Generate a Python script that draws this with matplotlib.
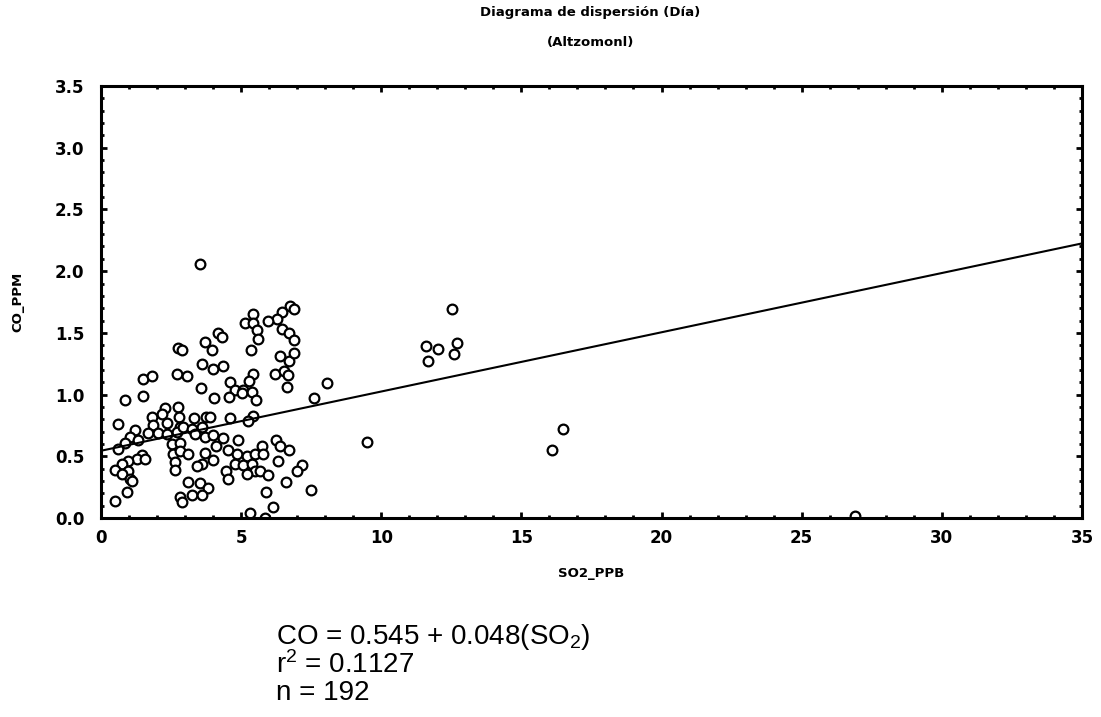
"""
Diagrama de dispersión CO vs SO2 (día) para la estación Altzomoni,
con la recta de regresión lineal y su resumen estadístico.
"""

import matplotlib
matplotlib.use("Agg")
import matplotlib.pyplot as plt
from matplotlib.ticker import MultipleLocator
import numpy as np

plt.rcParams["font.family"] = ["DejaVu Sans"]
plt.rcParams["mathtext.fontset"] = "custom"
plt.rcParams["mathtext.rm"] = "Liberation Sans"
plt.rcParams["mathtext.default"] = "rm"

# SO2 (ppb) y CO (ppm) de cada registro diurno
so2 = [
    3.71, 2.76, 2.90, 3.61, 1.51, 1.83, 2.70, 3.06, 3.57, 0.86,
    1.49, 2.28, 2.74, 1.81, 2.17, 2.78, 3.32, 3.74, 0.60, 1.87,
    2.34, 2.82, 1.21, 1.69, 2.04, 2.34, 2.70, 2.94, 3.24, 3.59,
    1.03, 1.31, 3.35, 3.71, 4.01, 0.86, 0.62, 2.54, 2.82, 2.58,
    2.82, 1.45, 1.27, 3.11, 3.71, 0.97, 0.74, 0.50, 1.57, 2.64,
    3.59, 0.97, 0.74, 1.03, 1.12, 2.64, 3.41, 3.11, 3.53, 3.83,
    0.92, 0.50, 2.82, 2.88, 3.24, 3.59,
    6.74, 6.89, 6.45, 6.27, 5.43, 5.14, 5.43, 5.97, 5.55, 5.61,
    6.45, 6.72, 6.89, 4.18, 4.31, 3.95, 5.34, 6.39, 6.72, 6.89,
    4.36, 4.01, 6.21, 6.53, 6.68, 6.65, 5.43, 5.29, 4.60, 4.78,
    5.08, 4.58, 5.02, 5.38, 5.53, 4.03, 8.07, 7.60, 4.60, 5.41,
    5.26, 3.89, 4.36, 4.90, 4.10, 4.54, 4.84, 5.20, 5.73, 5.49,
    5.79, 6.24, 6.39, 6.72, 3.98, 4.78, 5.08, 5.38, 5.49, 5.67,
    5.97, 6.33, 4.46, 4.54, 5.20, 7.16, 7.00, 6.60, 7.49, 5.89,
    6.13, 5.32, 5.85,
    3.53, 9.49, 12.53, 11.59, 12.01, 11.68, 12.71, 12.59, 16.47, 16.08,
    26.90,
]
co = [
    1.43, 1.38, 1.36, 1.25, 1.13, 1.15, 1.17, 1.15, 1.05, 0.96,
    0.99, 0.89, 0.90, 0.82, 0.84, 0.82, 0.81, 0.82, 0.76, 0.75,
    0.77, 0.74, 0.71, 0.69, 0.69, 0.68, 0.70, 0.74, 0.72, 0.74,
    0.66, 0.63, 0.68, 0.66, 0.67, 0.61, 0.56, 0.60, 0.61, 0.52,
    0.54, 0.51, 0.48, 0.52, 0.53, 0.46, 0.44, 0.39, 0.48, 0.45,
    0.44, 0.38, 0.36, 0.32, 0.30, 0.39, 0.42, 0.29, 0.28, 0.24,
    0.21, 0.14, 0.17, 0.13, 0.19, 0.19,
    1.72, 1.69, 1.67, 1.61, 1.65, 1.58, 1.58, 1.60, 1.52, 1.45,
    1.53, 1.50, 1.44, 1.50, 1.47, 1.36, 1.36, 1.31, 1.27, 1.34,
    1.23, 1.21, 1.17, 1.19, 1.16, 1.06, 1.17, 1.11, 1.10, 1.04,
    1.04, 0.98, 1.01, 1.02, 0.96, 0.97, 1.09, 0.97, 0.81, 0.83,
    0.79, 0.82, 0.65, 0.63, 0.58, 0.55, 0.52, 0.50, 0.58, 0.52,
    0.52, 0.63, 0.58, 0.55, 0.47, 0.44, 0.43, 0.44, 0.38, 0.38,
    0.35, 0.46, 0.38, 0.32, 0.36, 0.43, 0.38, 0.29, 0.23, 0.21,
    0.09, 0.04, 0.00,
    2.06, 0.62, 1.69, 1.39, 1.37, 1.27, 1.42, 1.33, 0.72, 0.55,
    0.02,
]

# recta ajustada y estadísticos
intercept = 0.545
slope = 0.048
r2 = 0.1127
n_obs = 192

fig = plt.figure(figsize=(11.01, 7.17), dpi=100)
ax = fig.add_axes([0.0917, 0.2775, 0.891, 0.6025])

ax.plot(so2, co, linestyle="none", marker="o", markersize=7,
        markerfacecolor="white", markeredgecolor="black", markeredgewidth=1.6)

xs = np.array([0, 35])
ax.plot(xs, intercept + slope * xs, color="black", linewidth=1.5)

ax.set_xlim(0, 35)
ax.set_ylim(0, 3.5)
ax.xaxis.set_major_locator(MultipleLocator(5))
ax.xaxis.set_minor_locator(MultipleLocator(1))
ax.yaxis.set_major_locator(MultipleLocator(0.5))
ax.yaxis.set_minor_locator(MultipleLocator(0.1))
ax.yaxis.set_major_formatter(lambda v, p: f"{v:.1f}")

for s in ax.spines.values():
    s.set_linewidth(2.2)
ax.tick_params(which="both", direction="in", top=True, right=True, width=2)
ax.tick_params(which="major", length=4)
ax.tick_params(which="minor", length=2.5)
ax.tick_params(axis="x", which="major", pad=8, labelsize=12)
ax.tick_params(axis="y", which="major", pad=12, labelsize=12)
for lbl in ax.get_xticklabels() + ax.get_yticklabels():
    lbl.set_fontweight("bold")

ax.set_xlabel("SO2_PPB", fontsize=9.5, fontweight="bold", labelpad=14)
ax.set_ylabel("CO_PPM", fontsize=9.5, fontweight="bold", labelpad=22)

fig.text(0.536, 0.983, "Diagrama de dispersión (Día)", ha="center", va="center",
         fontsize=9.5, fontweight="bold")
fig.text(0.536, 0.941, "(Altzomonl)", ha="center", va="center",
         fontsize=9.5, fontweight="bold")

# resumen de la regresión
fig.text(0.251, 0.112, f"CO = {intercept} + {slope}(SO$_2$)",
         family="Liberation Sans", fontsize=20, va="center")
fig.text(0.251, 0.072, f"r$^2$ = {r2}",
         family="Liberation Sans", fontsize=20, va="center")
fig.text(0.251, 0.034, f"n = {n_obs}",
         family="Liberation Sans", fontsize=20, va="center")

plt.savefig("out.png", dpi=100)
plt.close()
